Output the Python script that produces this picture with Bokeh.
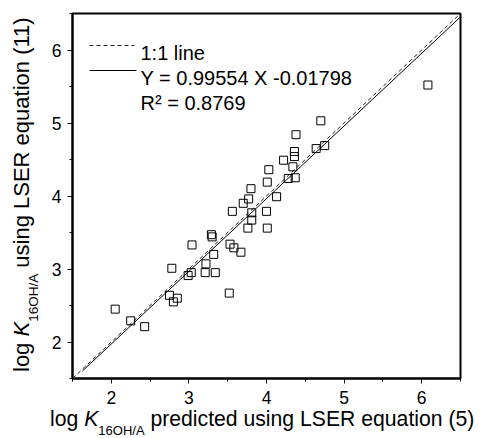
from bokeh.plotting import figure
from bokeh.models import Label, Arrow, SingleIntervalTicker, Range1d, Div
from bokeh.layouts import row, column
from bokeh.embed import file_html
from bokeh.resources import INLINE

# ---- data ----
pred_x = [2.05, 2.25, 2.43, 2.75, 2.80, 2.85, 2.78, 2.99, 3.03, 3.04,
          3.22, 3.21, 3.34, 3.32, 3.29, 3.30, 3.52, 3.53, 3.58, 3.67,
          3.56, 3.70, 3.77, 3.80, 3.76, 3.81, 3.81, 4.00, 4.01, 4.01,
          4.03, 4.13, 4.22, 4.28, 4.34, 4.36, 4.36, 4.37, 4.38, 4.64,
          4.70, 4.75, 6.08]
lser_y = [2.45, 2.29, 2.21, 2.64, 2.55, 2.60, 3.01, 2.91, 2.95, 3.33,
          3.07, 2.95, 2.95, 3.20, 3.47, 3.44, 2.67, 3.34, 3.29, 3.23,
          3.79, 3.90, 3.96, 4.10, 3.56, 3.67, 3.77, 3.79, 3.56, 4.19,
          4.36, 3.99, 4.49, 4.24, 4.40, 4.54, 4.61, 4.25, 4.84, 4.65,
          5.03, 4.69, 5.52]
slope = 0.99554
intercept = -0.01798
one_to_one_x = [1.5, 6.5]
fit_x = [1.63, 6.5]
legend_texts = ["1:1 line", "Y = 0.99554 X -0.01798", "R\u00b2 = 0.8769"]
x_title = ("log", "K", "16OH/A", "predicted using LSER equation (5)")
y_title = ("log", "K", "16OH/A", "using LSER equation (11)")

FONT = "Liberation Sans"

p = figure(frame_width=388, frame_height=365,
           min_border_left=22, min_border_right=23,
           min_border_top=13, min_border_bottom=34,
           x_range=Range1d(1.5, 6.5), y_range=Range1d(1.5, 6.5),
           output_backend="svg", toolbar_location=None,
           background_fill_color="white", border_fill_color="white")
p.grid.visible = False
p.outline_line_color = "black"
p.outline_line_width = 2

for ax in (p.xaxis[0], p.yaxis[0]):
    ax.ticker = SingleIntervalTicker(interval=1, num_minor_ticks=2)
    ax.axis_line_width = 2
    ax.axis_line_color = "black"
    ax.major_tick_in = 0
    ax.major_tick_out = 5
    ax.minor_tick_in = 0
    ax.minor_tick_out = 3
    ax.major_tick_line_color = "black"
    ax.minor_tick_line_color = "black"
    ax.major_label_text_font = FONT
    ax.major_label_text_font_size = "17.5px"
    ax.major_label_text_color = "black"
    ax.axis_label = None
p.xaxis[0].major_label_standoff = 7
p.yaxis[0].major_label_standoff = 6

# lines
p.line(one_to_one_x, one_to_one_x, line_color="#222222", line_width=1, line_dash="4 3")
p.line(fit_x, [slope * v + intercept for v in fit_x], line_color="black", line_width=1)

# points
p.scatter(pred_x, lser_y, marker="square", size=8, fill_color=None,
          line_color="black", line_width=1)

# legend (manual)
p.add_layout(Arrow(end=None, x_start=17, y_start=333, x_end=62, y_end=333,
                   start_units="screen", end_units="screen",
                   line_color="#222222", line_width=1, line_dash="4 3"))
p.add_layout(Arrow(end=None, x_start=17, y_start=308, x_end=64, y_end=308,
                   start_units="screen", end_units="screen",
                   line_color="black", line_width=1))
for t, yy in zip(legend_texts, [326, 301, 276]):
    p.add_layout(Label(x=68, y=yy, x_units="screen", y_units="screen", text=t,
                       text_font=FONT, text_font_size="20px", text_color="black",
                       text_baseline="alphabetic", text_align="left"))

# axis titles as HTML (for italic K and subscript)
def title_html(parts, fs, sub_fs, sub_shift, extra_style):
    log_t, k_t, sub_t, rest_t = parts
    return (f'<span style="position:absolute; white-space:nowrap; color:#000; '
            f'font-family:\'{FONT}\'; font-size:{fs}px; line-height:{fs}px; {extra_style}">'
            f'{log_t} <i>{k_t}</i><span style="font-size:{sub_fs}px; line-height:{sub_fs}px; '
            f'vertical-align:-{sub_shift}px">{sub_t}</span> {rest_t}</span>')

div_y = Div(text=title_html(y_title, 22, 13.5, 9,
                            "left:11px; top:372px; transform:rotate(-90deg); transform-origin:0 0;"),
            width=48, height=412, margin=0,
            styles={"position": "relative", "overflow": "visible"})
div_x = Div(text=title_html(x_title, 21.2, 13, 8.5, "left:50px; top:-4px;"),
            width=481, height=26, margin=0,
            styles={"position": "relative", "overflow": "visible"})

layout = column(row(div_y, p, spacing=0), div_x, spacing=0)
open("out.html", "w").write(file_html(layout, INLINE))
